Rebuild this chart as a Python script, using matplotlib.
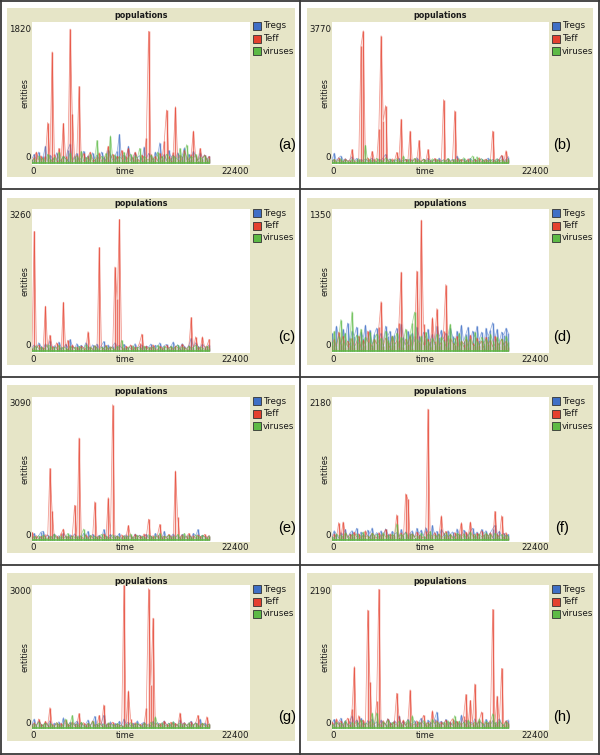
import numpy as np
import matplotlib
matplotlib.use('Agg')
import matplotlib.pyplot as plt
from matplotlib.lines import Line2D
from matplotlib.patches import Rectangle

# ---------------- data ----------------
panel_labels = ['(a)', '(b)', '(c)', '(d)', '(e)', '(f)', '(g)', '(h)']
y_max_labels = [1820, 3770, 3260, 1350, 3090, 2180, 3000, 2190]
x_max_label = 22400
t_end = 18200
series_names = ['Tregs', 'Teff', 'viruses']

tregs_a = [60,120,40,150,30,90,230,20,110,70, 40,140,60,25,100,50,180,260,40,90,
           130,30,70,160,45,100,20,140,60,110, 50,150,80,30,180,120,40,100,160,390,
           60,110,30,230,90,50,140,70,100,40, 220,60,130,80,40,150,90,275,60,120,
           30,170,80,110,50,140,60,100,210,40, 120,60,160,90,30,140,70,110,50,90]
teff_a = [20,80,150,40,100,30,90,550,60,1510, 120,40,200,70,540,90,30,1820,665,50,
          110,1040,40,130,20,90,150,60,30,80, 140,20,60,100,230,50,120,30,90,60,
          170,40,100,200,30,80,150,60,20,110, 70,345,1790,120,40,90,30,130,60,300,
          720,100,40,150,765,60,110,30,170,80, 40,120,435,90,30,200,60,110,40,90]
viruses_a = [30,60,20,100,40,70,10,120,50,30, 80,20,150,40,90,60,30,140,20,70,
             100,40,160,30,80,50,120,20,70,307, 40,90,60,130,30,370,70,110,40,90,
             50,150,30,80,120,40,100,60,200,30, 90,60,40,110,70,30,150,50,90,40,
             120,60,30,100,80,40,200,60,130,250, 40,90,60,120,30,80,50,100,40,60]

tregs_b = [100,280,60,150,200,80,120,40,90,180, 60,130,40,100,70,120,50,90,140,60,
           30,110,80,150,240,70,120,40,90,60, 130,50,80,100,40,120,60,90,150,70,
           40,110,60,130,80,50,100,30,140,60, 90,40,120,70,100,50,200,80,60,110,
           40,90,130,60,100,40,80,120,50,90, 140,60,100,40,120,80,200,60,100,180]
teff_b = [40,100,20,150,60,30,120,50,80,380, 60,20,90,3300,3720,60,150,40,330,100,
          30,950,3580,1190,1615,70,40,120,60,300, 90,1235,40,100,60,900,30,120,80,635,
          50,100,40,380,70,30,130,60,90,40, 1785,60,110,30,80,1470,150,40,100,60,
          30,120,70,40,100,60,150,30,80,110, 40,90,900,60,30,120,220,50,350,80]
viruses_b = [50,100,30,80,120,40,90,60,20,100, 40,80,120,30,70,500,60,100,40,80,
             130,50,90,30,150,60,100,40,80,120, 60,30,200,70,100,40,80,130,50,90,
             30,110,60,80,40,120,70,100,50,30, 90,60,130,40,80,100,50,120,70,150,
             90,40,110,200,60,180,80,120,50,90, 60,100,40,80,120,50,90,30,70,100]

tregs_c = [80,150,60,200,120,40,180,90,250,60, 130,70,220,100,50,160,80,280,120,60,
           180,90,140,60,200,110,40,150,90,170, 60,130,230,80,150,50,120,200,90,140,
           70,160,100,50,130,80,180,60,110,150, 40,120,90,170,60,140,100,200,80,130,
           160,60,120,220,90,150,70,180,110,60, 140,310,90,200,120,60,170,100,80,150]
teff_c = [80,2890,60,150,40,100,1085,80,385,120, 50,200,90,30,1180,70,260,40,150,60,
          100,30,120,80,50,470,90,40,130,60, 2500,80,50,140,30,100,60,2030,1250,3180,
          90,40,120,60,150,30,100,70,200,410, 60,120,40,90,150,60,30,110,80,50,
          140,60,100,30,120,80,50,160,90,40, 130,810,60,345,100,40,345,90,120,280]
viruses_c = [40,90,130,60,100,30,80,150,120,50, 90,60,140,40,100,70,30,120,60,90,
             50,110,80,40,150,60,100,30,130,70, 40,90,60,120,50,100,70,30,110,60,
             260,80,40,100,60,130,30,90,70,50, 120,40,90,60,100,30,140,70,50,110,
             80,40,120,60,90,150,50,100,70,40, 110,60,90,140,50,100,70,40,120,80]

tregs_d = [180,100,250,140,60,220,120,280,90,200, 150,240,70,190,130,260,100,210,60,170,
           230,120,180,80,250,150,200,90,160,230, 110,270,140,60,200,120,180,90,240,150,
           80,190,130,220,100,170,60,250,140,210, 120,180,90,230,150,60,200,130,260,100,
           170,240,90,200,140,250,110,190,60,230, 150,210,285,130,220,90,190,160,230,180]
teff_d = [60,120,30,190,80,150,40,100,60,130, 40,90,150,30,110,60,200,80,40,120,
          70,240,495,50,130,80,30,150,60,100, 280,790,40,120,70,150,30,150,800,90,
          1310,275,60,120,40,335,100,425,50,90, 200,665,40,130,80,60,150,30,100,70,
          120,40,160,80,50,130,60,100,30,140, 70,110,40,150,90,50,120,60,100,40]
viruses_d = [100,200,60,150,315,90,180,40,130,395, 70,160,100,220,50,140,90,190,60,120,
             170,80,130,50,200,110,60,150,90,180, 40,140,100,220,60,170,280,390,120,80,
             150,60,190,100,50,130,80,170,60,140, 100,50,160,270,90,130,60,180,100,40,
             150,80,120,60,190,100,50,140,80,120, 60,170,100,50,140,80,120,60,150,90]

tregs_e = [80,150,40,100,180,200,60,120,40,90, 140,60,100,30,160,80,50,120,70,140,
           40,100,60,150,90,200,50,130,80,60, 110,40,240,90,60,130,50,100,80,150,
           40,90,120,60,100,30,140,70,110,50, 90,130,60,100,40,150,80,120,60,200,
           50,110,80,140,60,100,40,130,90,70, 120,60,150,90,240,60,110,80,40,100]
teff_e = [175,40,100,30,80,60,120,100,1625,650, 40,100,30,150,250,60,90,40,120,790,
          60,2320,80,30,120,50,100,40,870,60, 90,30,140,60,965,100,3075,50,90,40,
          120,60,100,330,80,40,130,60,100,50, 140,80,475,60,100,40,120,355,60,90,
          40,130,70,100,1570,515,60,120,40,90, 150,60,100,40,120,80,50,130,60,100]
viruses_e = [30,80,50,100,40,120,60,20,90,50, 130,40,70,100,30,80,150,50,90,60,
             100,40,120,250,70,30,110,60,90,40, 80,130,50,100,30,70,120,40,90,60,
             30,100,60,80,140,40,70,110,50,90, 60,30,120,80,40,100,60,150,30,90,
             70,110,40,80,60,130,30,90,150,50, 100,60,40,120,80,50,110,70,30,90]

tregs_f = [60,150,90,30,120,80,170,40,110,150, 70,190,50,130,90,40,160,100,195,60,
           120,80,150,40,180,100,60,140,90,120, 50,170,80,130,60,110,150,40,190,100,
           160,70,200,120,60,235,90,140,50,170, 110,60,150,90,130,40,180,100,70,160,
           120,50,140,190,80,130,60,170,100,150, 60,120,180,235,90,140,60,110,50,90]
teff_f = [40,100,30,280,60,290,120,40,90,60, 130,50,100,30,80,150,60,40,110,70,
          30,120,60,90,170,40,100,60,80,405, 50,120,30,740,655,60,100,40,130,80,
          60,30,150,2100,80,60,120,40,100,390, 70,140,50,90,30,120,60,100,280,40,
          130,60,290,90,40,110,70,150,50,100, 60,120,30,460,90,50,390,70,120,40]
viruses_f = [50,30,100,60,80,40,120,70,30,90, 60,100,40,80,130,50,70,30,110,60,
             90,40,70,120,50,80,30,100,60,260, 40,90,60,120,30,80,100,50,70,40,
             110,60,30,90,140,50,80,60,100,30, 70,120,40,90,60,30,110,80,50,100,
             40,70,130,60,90,30,100,50,80,120, 60,90,40,110,70,50,90,30,80,60]

tregs_g = [100,200,60,150,90,40,120,80,160,50, 110,70,140,40,230,90,60,130,50,100,
           150,70,120,40,90,180,60,110,260,80, 50,120,280,90,60,140,40,100,70,150,
           60,200,90,130,40,110,70,160,50,100, 130,60,90,40,150,70,120,50,100,160,
           60,110,40,140,90,60,180,80,120,50, 100,150,60,120,80,200,40,110,60,90]
teff_g = [60,120,30,200,80,40,150,60,450,90, 40,120,60,100,30,170,80,50,140,60,
          90,320,40,120,60,100,30,160,50,90, 280,60,510,40,100,70,130,50,90,60,
          40,3150,60,820,200,40,120,60,90,50, 100,435,3075,950,2425,120,60,100,40,150,
          80,50,130,60,100,40,335,70,120,50, 90,140,40,110,280,60,100,50,250,80]
viruses_g = [40,90,60,130,30,80,110,50,100,60, 30,120,70,40,90,200,60,110,280,50,
             90,40,130,70,30,100,60,150,40,80, 110,50,90,30,120,60,80,40,100,70,
             50,30,90,60,120,40,80,100,60,30, 110,70,40,130,60,250,90,50,120,70,
             40,100,60,140,30,80,110,50,90,60, 120,40,80,100,60,30,110,70,50,90]

tregs_h = [80,140,50,100,160,60,120,40,110,200, 70,130,50,160,90,40,120,70,150,60,
           100,40,130,80,60,150,90,40,120,70, 200,60,110,40,140,80,60,120,50,100,
           160,70,40,130,90,60,150,260,80,110, 50,140,70,100,40,120,90,60,210,80,
           130,50,100,70,150,40,110,80,60,140, 90,50,120,60,100,150,70,40,110,130]
teff_h = [100,40,150,60,120,30,90,160,60,300, 990,40,200,80,130,60,1900,740,90,40,
          430,2235,60,120,40,150,80,50,110,560, 200,60,130,40,90,615,70,50,120,40,
          100,205,60,90,40,280,70,120,50,100, 60,130,40,90,150,60,110,40,80,200,
          540,60,445,90,710,50,120,260,40,90, 60,130,1910,70,515,100,960,60,120,80]
viruses_h = [60,30,100,50,80,40,120,60,30,90, 50,100,70,130,40,80,60,110,245,50,
             245,70,40,100,60,130,30,90,70,50, 110,60,40,90,130,50,200,70,40,100,
             60,120,50,80,30,140,60,100,70,40, 90,60,120,40,80,200,60,110,50,90,
             40,130,70,50,100,60,150,80,40,110, 60,100,230,90,50,120,70,40,100,60]

panel_series = [
    (tregs_a, teff_a, viruses_a), (tregs_b, teff_b, viruses_b),
    (tregs_c, teff_c, viruses_c), (tregs_d, teff_d, viruses_d),
    (tregs_e, teff_e, viruses_e), (tregs_f, teff_f, viruses_f),
    (tregs_g, teff_g, viruses_g), (tregs_h, teff_h, viruses_h),
]

# ---------------- styling / layout ----------------
W, H = 600, 755
BEIGE = '#E6E5C7'
COLORS = ['#3F6FC6', '#E5402E', '#5DBA45']
TXT = '#1a1a1a'

fig = plt.figure(figsize=(W / 100, H / 100), dpi=100)
fig.patch.set_facecolor('white')

def fx(x):
    return x / W

def fy(y):
    return 1 - y / H

def rect_axes(x0, y0, x1, y1, z):
    ax = fig.add_axes([x0 / W, 1 - y1 / H, (x1 - x0) / W, (y1 - y0) / H])
    ax.set_zorder(z)
    return ax

rows = [
    dict(bt=8, bb=177, wt=22, wb=165, title=15, xl=172, lab=145),
    dict(bt=198, bb=365, wt=209, wb=353, title=204, xl=360, lab=337),
    dict(bt=385, bb=553, wt=397, wb=542, title=392, xl=548, lab=528),
    dict(bt=573, bb=741, wt=585, wb=730, title=581, xl=736, lab=717),
]
cols = [
    dict(bl=7, br=295, wl=32, wr=250, lab=287),
    dict(bl=307, br=593, wl=332, wr=549, lab=562),
]

for k in range(8):
    r = rows[k // 2]
    c = cols[k % 2]
    # beige panel
    bax = rect_axes(c['bl'], r['bt'], c['br'], r['bb'], 1)
    bax.set_facecolor(BEIGE)
    bax.set_xticks([]); bax.set_yticks([])
    for s in bax.spines.values():
        s.set_visible(False)
    # white plot area
    ax = rect_axes(c['wl'], r['wt'], c['wr'], r['wb'], 2)
    ax.set_facecolor('white')
    ax.set_xticks([]); ax.set_yticks([])
    for s in ax.spines.values():
        s.set_visible(False)
    ymax = y_max_labels[k]
    hpx = r['wb'] - r['wt']
    usable = hpx - 9
    ax.set_ylim(-2 / usable * ymax, ymax + 7 / usable * ymax)
    ax.set_xlim(0, x_max_label)
    data = panel_series[k]
    t = np.linspace(0, t_end, len(data[0]))
    for vals, col in zip(data, COLORS):
        ax.vlines(t, 0, vals, color=col, lw=1.05, alpha=0.72)
        ax.plot(t, vals, color=col, lw=0.55, alpha=0.55)
    ax.plot([0, t_end], [0, 0], color=COLORS[2], lw=1.2, alpha=0.9)

    # title
    fig.text(fx((c['wl'] + c['wr']) / 2), fy(r['title']), 'populations',
             ha='center', va='center', fontsize=5.8, fontweight='bold', color=TXT, zorder=5)
    # y labels
    fig.text(fx(c['wl'] - 1), fy(r['wt'] + 7), str(ymax), ha='right', va='center',
             fontsize=6.2, color=TXT, zorder=5)
    fig.text(fx(c['wl'] - 1), fy(r['wb'] - 7), '0', ha='right', va='center',
             fontsize=6.2, color=TXT, zorder=5)
    fig.text(fx(c['wl'] - 7), fy((r['wt'] + r['wb']) / 2), 'entities', ha='center',
             va='center', rotation=90, fontsize=5.8, color=TXT, zorder=5)
    # x labels
    fig.text(fx(c['wl'] + 1), fy(r['xl']), '0', ha='center', va='center',
             fontsize=6.2, color=TXT, zorder=5)
    fig.text(fx(c['wl'] + 93), fy(r['xl']), 'time', ha='center', va='center',
             fontsize=6, color=TXT, zorder=5)
    fig.text(fx(c['wl'] + 203), fy(r['xl']), str(x_max_label), ha='center', va='center',
             fontsize=6.2, color=TXT, zorder=5)
    # legend
    for j, (name, col) in enumerate(zip(series_names, COLORS)):
        yc = r['wt'] + 4 + j * 12.5
        x0 = c['wr'] + 3
        fig.patches.append(Rectangle((fx(x0), fy(yc + 4)), 8 / W, 8 / H,
                                     transform=fig.transFigure, facecolor=col,
                                     edgecolor='#333333', lw=0.6, zorder=5))
        fig.text(fx(x0 + 10), fy(yc), name, ha='left', va='center',
                 fontsize=6.3, color=TXT, zorder=5)
    # panel label
    fig.text(fx(c['lab']), fy(r['lab']), panel_labels[k], ha='center', va='center',
             fontsize=10.5, family='Liberation Sans', color='black', zorder=6)

# frame lines
LC = '#3a3a3a'
for y in [0.8, 189, 377, 565, 754]:
    fig.add_artist(Line2D([fx(0), fx(600)], [fy(y), fy(y)], transform=fig.transFigure,
                          color=LC, lw=1.3, zorder=10))
for x in [0.8, 300, 599.2]:
    fig.add_artist(Line2D([fx(x), fx(x)], [fy(0), fy(755)], transform=fig.transFigure,
                          color=LC, lw=1.3, zorder=10))

fig.savefig('out.png', dpi=100, facecolor='white')
